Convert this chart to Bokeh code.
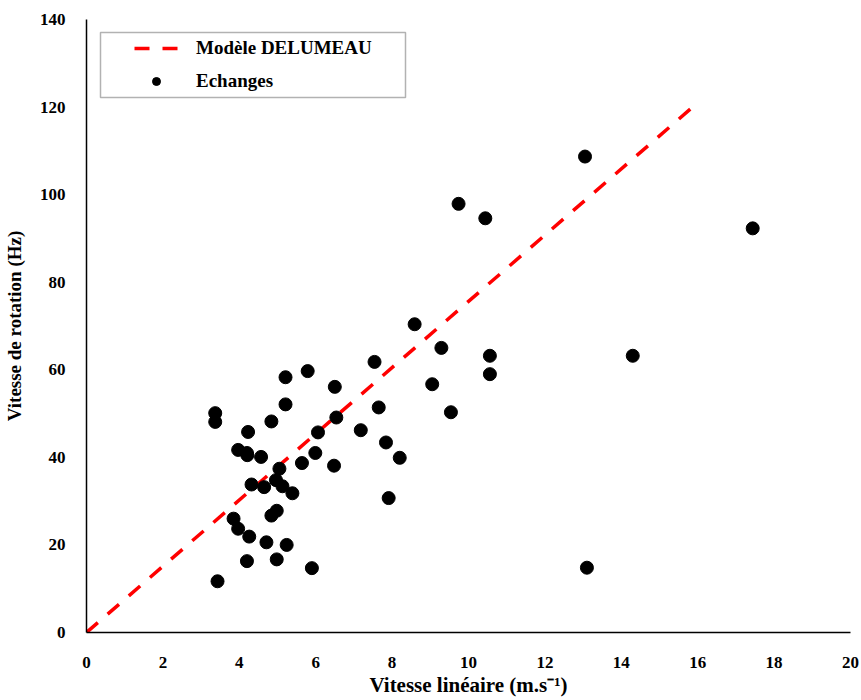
from bokeh.plotting import figure
from bokeh.models import Range1d, FixedTicker, Legend, LegendItem, BoxAnnotation
from bokeh.embed import file_html
from bokeh.resources import INLINE

# Data: "Echanges" measurements
ech_x = [3.37, 3.37, 3.43, 3.85, 3.97, 3.97, 4.20, 4.21, 4.23, 4.20, 4.26, 4.32, 4.57,
         4.65, 4.71, 4.84, 4.84, 4.96, 4.98, 4.98, 5.05, 5.13, 5.21, 5.21, 5.24, 5.39,
         5.64, 5.79, 5.90, 5.99, 6.06, 6.48, 6.50, 6.54, 7.18, 7.54, 7.65, 7.84, 7.91,
         8.20, 8.59, 9.05, 9.29, 9.54, 9.74, 10.44, 10.56, 10.56, 13.05, 13.10, 14.30, 17.44]
ech_y = [50.1, 48.1, 11.7, 26.0, 23.7, 41.7, 41.0, 40.5, 45.8, 16.3, 21.9, 33.8, 40.1,
         33.2, 20.6, 48.2, 26.7, 34.8, 27.8, 16.7, 37.4, 33.4, 58.3, 52.1, 20.0, 31.8,
         38.7, 59.7, 14.7, 41.0, 45.7, 38.1, 56.1, 49.1, 46.2, 61.8, 51.4, 43.4, 30.7,
         39.9, 70.4, 56.7, 65.0, 50.3, 97.9, 94.6, 63.2, 59.0, 108.7, 14.8, 63.2, 92.3]

# Modèle DELUMEAU line
model_x = [0, 16]
model_y = [0, 121]

x_ticks = [0, 2, 4, 6, 8, 10, 12, 14, 16, 18, 20]
y_ticks = [0, 20, 40, 60, 80, 100, 120, 140]

FONT = "Liberation Serif"

p = figure(width=860, height=699, output_backend="svg", toolbar_location=None,
           x_range=Range1d(0, 20), y_range=Range1d(0, 140),
           min_border_left=85, min_border_right=10, min_border_top=19, min_border_bottom=65)
p.outline_line_color = None
p.xgrid.visible = False
p.ygrid.visible = False
p.background_fill_color = "white"
p.border_fill_color = "white"

line_r = p.line(model_x, model_y, line_color="#ff0000", line_width=3.5, line_dash="15 13")
pts_r = p.scatter(ech_x, ech_y, size=13, fill_color="black", line_color="black")

for ax, ticks in ((p.xaxis[0], x_ticks), (p.yaxis[0], y_ticks)):
    ax.ticker = FixedTicker(ticks=ticks)
    ax.major_tick_line_color = None
    ax.minor_tick_line_color = None
    ax.axis_line_color = "black"
    ax.axis_line_width = 1.5
    ax.major_label_text_font = FONT
    ax.major_label_text_font_style = "bold"
    ax.major_label_text_font_size = "17px"
    ax.major_label_text_color = "black"
    ax.axis_label_text_font = FONT
    ax.axis_label_text_font_style = "bold"
    ax.axis_label_text_color = "black"

p.xaxis[0].axis_label = "Vitesse linéaire (m.s⁻¹)"
p.xaxis[0].axis_label_text_font_size = "21px"
p.xaxis[0].major_label_standoff = 18
p.xaxis[0].axis_label_standoff = 2
p.yaxis[0].axis_label = "Vitesse de rotation (Hz)"
p.yaxis[0].axis_label_text_font_size = "19px"
p.yaxis[0].major_label_standoff = 15
p.yaxis[0].axis_label_standoff = 12

# legend frame
box = BoxAnnotation(left=14, right=319, top=600, bottom=535,
                    left_units="screen", right_units="screen",
                    top_units="screen", bottom_units="screen",
                    fill_color="white", fill_alpha=1.0,
                    line_color="black", line_width=1.5)
p.add_layout(box)

legend = Legend(items=[LegendItem(label="Modèle DELUMEAU", renderers=[line_r]),
                       LegendItem(label="Echanges", renderers=[pts_r])],
                location=(48, 540), padding=0, spacing=11,
                glyph_width=44, glyph_height=20, label_height=20, label_standoff=18,
                border_line_alpha=0, background_fill_alpha=0,
                label_text_font=FONT, label_text_font_style="bold",
                label_text_font_size="19px", label_text_color="black")
p.add_layout(legend)

open("out.html", "w").write(file_html(p, INLINE))
